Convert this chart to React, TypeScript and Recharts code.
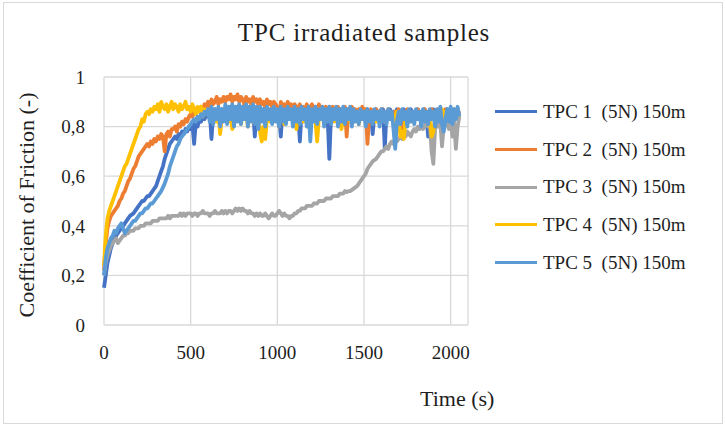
import React from "react";
import { LineChart, Line, XAxis, YAxis, CartesianGrid } from "recharts";

// sampling step of the friction log (s)
const SAMPLE_STEP = 10;

const X_TICKS = [0, 500, 1000, 1500, 2000];
const Y_TICKS = [0, 0.2, 0.4, 0.6, 0.8, 1];

const SERIES_NAMES = [
  "TPC 1  (5N) 150m",
  "TPC 2  (5N) 150m",
  "TPC 3  (5N) 150m",
  "TPC 4  (5N) 150m",
  "TPC 5  (5N) 150m",
];
const SERIES_COLORS = ["#4472C4", "#ED7D31", "#A5A5A5", "#FFC000", "#5B9BD5"];

// coefficient of friction, one value every 10 s, rows of 100 s
const tpc1 = [
  0.15, 0.20, 0.25, 0.28, 0.31, 0.33, 0.35, 0.36, 0.37, 0.38,
  0.39, 0.40, 0.41, 0.42, 0.43, 0.44, 0.445, 0.45, 0.46, 0.47,
  0.48, 0.49, 0.50, 0.50, 0.51, 0.52, 0.52, 0.53, 0.54, 0.55,
  0.56, 0.58, 0.60, 0.62, 0.64, 0.67, 0.69, 0.71, 0.73, 0.74,
  0.75, 0.76, 0.75, 0.77, 0.76, 0.78, 0.77, 0.79, 0.78, 0.80,
  0.79, 0.81, 0.73, 0.82, 0.80, 0.83, 0.82, 0.84, 0.83, 0.85,
  0.84, 0.86, 0.75, 0.85, 0.87, 0.84, 0.86, 0.85, 0.87, 0.84,
  0.86, 0.87, 0.85, 0.88, 0.86, 0.87, 0.85, 0.88, 0.86, 0.87,
  0.88, 0.85, 0.87, 0.86, 0.88, 0.85, 0.87, 0.76, 0.86, 0.88,
  0.86, 0.87, 0.85, 0.88, 0.86, 0.87, 0.85, 0.87, 0.86, 0.88,
  0.86, 0.85, 0.76, 0.87, 0.85, 0.86, 0.84, 0.87, 0.85, 0.86,
  0.84, 0.86, 0.85, 0.74, 0.86, 0.84, 0.87, 0.85, 0.86, 0.77,
  0.86, 0.84, 0.87, 0.85, 0.86, 0.84, 0.87, 0.85, 0.86, 0.84,
  0.67, 0.85, 0.87, 0.84, 0.86, 0.85, 0.87, 0.84, 0.86, 0.85,
  0.87, 0.84, 0.86, 0.85, 0.87, 0.84, 0.86, 0.85, 0.87, 0.84,
  0.86, 0.85, 0.87, 0.84, 0.86, 0.77, 0.85, 0.87, 0.84, 0.86,
  0.85, 0.87, 0.71, 0.86, 0.84, 0.87, 0.85, 0.86, 0.84, 0.87,
  0.85, 0.86, 0.84, 0.87, 0.85, 0.86, 0.84, 0.87, 0.85, 0.86,
  0.84, 0.87, 0.85, 0.86, 0.84, 0.87, 0.85, 0.76, 0.86, 0.84,
  0.87, 0.85, 0.86, 0.84, 0.87, 0.85, 0.86, 0.84, 0.87, 0.85,
  0.86, 0.84, 0.87, 0.85, 0.86, 0.84,
];

const tpc2 = [
  0.22, 0.33, 0.39, 0.42, 0.44, 0.45, 0.46, 0.47, 0.48, 0.50,
  0.51, 0.53, 0.54, 0.56, 0.58, 0.59, 0.61, 0.63, 0.64, 0.66,
  0.68, 0.69, 0.70, 0.71, 0.72, 0.73, 0.72, 0.74, 0.73, 0.75,
  0.74, 0.76, 0.75, 0.77, 0.76, 0.70, 0.77, 0.78, 0.76, 0.79,
  0.79, 0.80, 0.78, 0.81, 0.80, 0.82, 0.81, 0.83, 0.82, 0.84,
  0.85, 0.84, 0.86, 0.85, 0.87, 0.86, 0.88, 0.87, 0.89, 0.88,
  0.90, 0.88, 0.91, 0.89, 0.90, 0.92, 0.89, 0.91, 0.90, 0.92,
  0.90, 0.92, 0.91, 0.93, 0.90, 0.92, 0.91, 0.93, 0.90, 0.92,
  0.91, 0.89, 0.92, 0.90, 0.91, 0.89, 0.92, 0.90, 0.91, 0.89,
  0.91, 0.89, 0.90, 0.88, 0.91, 0.89, 0.90, 0.88, 0.90, 0.89,
  0.88, 0.80, 0.90, 0.88, 0.89, 0.87, 0.90, 0.88, 0.89, 0.87,
  0.89, 0.88, 0.86, 0.89, 0.87, 0.88, 0.86, 0.89, 0.87, 0.88,
  0.89, 0.87, 0.88, 0.86, 0.89, 0.87, 0.88, 0.86, 0.88, 0.87,
  0.88, 0.86, 0.88, 0.87, 0.85, 0.88, 0.86, 0.87, 0.85, 0.88,
  0.76, 0.87, 0.85, 0.88, 0.86, 0.87, 0.85, 0.87, 0.86, 0.88,
  0.86, 0.87, 0.73, 0.85, 0.87, 0.86, 0.84, 0.87, 0.85, 0.86,
  0.87, 0.85, 0.86, 0.84, 0.87, 0.85, 0.86, 0.84, 0.86, 0.85,
  0.87, 0.85, 0.78, 0.86, 0.84, 0.87, 0.85, 0.86, 0.84, 0.86,
  0.85, 0.87, 0.84, 0.86, 0.85, 0.87, 0.84, 0.86, 0.85, 0.87,
  0.85, 0.86, 0.84, 0.87, 0.85, 0.86, 0.84, 0.87, 0.85, 0.86,
  0.87, 0.85, 0.86, 0.84, 0.87, 0.85,
];

const tpc3 = [
  0.20, 0.25, 0.28, 0.30, 0.32, 0.33, 0.34, 0.35, 0.33, 0.34,
  0.35, 0.36, 0.36, 0.37, 0.37, 0.38, 0.38, 0.38, 0.39, 0.39,
  0.39, 0.40, 0.40, 0.40, 0.41, 0.41, 0.41, 0.41, 0.42, 0.42,
  0.42, 0.42, 0.43, 0.43, 0.43, 0.43, 0.43, 0.44, 0.43, 0.44,
  0.44, 0.44, 0.44, 0.44, 0.45, 0.44, 0.45, 0.44, 0.45, 0.45,
  0.45, 0.44, 0.45, 0.45, 0.44, 0.45, 0.45, 0.46, 0.45, 0.45,
  0.45, 0.44, 0.45, 0.45, 0.46, 0.45, 0.45, 0.45, 0.46, 0.45,
  0.46, 0.45, 0.46, 0.46, 0.45, 0.46, 0.47, 0.46, 0.47, 0.46,
  0.47, 0.46, 0.46, 0.45, 0.46, 0.45, 0.45, 0.44, 0.45, 0.44,
  0.45, 0.44, 0.44, 0.45, 0.44, 0.43, 0.44, 0.45, 0.44, 0.44,
  0.45, 0.46, 0.45, 0.44, 0.45, 0.44, 0.44, 0.43, 0.44, 0.44,
  0.45, 0.45, 0.46, 0.46, 0.47, 0.47, 0.47, 0.48, 0.48, 0.48,
  0.48, 0.49, 0.49, 0.49, 0.50, 0.50, 0.50, 0.50, 0.51, 0.51,
  0.51, 0.51, 0.52, 0.52, 0.52, 0.52, 0.53, 0.53, 0.53, 0.54,
  0.535, 0.54, 0.54, 0.545, 0.55, 0.555, 0.56, 0.57, 0.58, 0.59,
  0.60, 0.61, 0.63, 0.64, 0.65, 0.66, 0.665, 0.67, 0.68, 0.69,
  0.70, 0.70, 0.71, 0.72, 0.71, 0.73, 0.74, 0.73, 0.75, 0.74,
  0.75, 0.76, 0.75, 0.77, 0.76, 0.78, 0.77, 0.76, 0.78, 0.79,
  0.78, 0.80, 0.79, 0.81, 0.79, 0.80, 0.82, 0.80, 0.81, 0.70,
  0.65, 0.79, 0.81, 0.80, 0.82, 0.72, 0.80, 0.82, 0.81, 0.79,
  0.83, 0.76, 0.82, 0.71, 0.80, 0.84,
];

const tpc4 = [
  0.24, 0.36, 0.43, 0.46, 0.48, 0.50, 0.52, 0.54, 0.56, 0.58,
  0.60, 0.62, 0.64, 0.65, 0.67, 0.69, 0.71, 0.73, 0.75, 0.77,
  0.79, 0.80, 0.83, 0.82, 0.85, 0.86, 0.85, 0.87, 0.86, 0.88,
  0.87, 0.89, 0.86, 0.90, 0.88, 0.87, 0.89, 0.86, 0.88, 0.90,
  0.87, 0.89, 0.88, 0.86, 0.89, 0.87, 0.88, 0.90, 0.87, 0.88,
  0.86, 0.89, 0.87, 0.85, 0.88, 0.86, 0.88, 0.84, 0.87, 0.85,
  0.86, 0.84, 0.87, 0.83, 0.85, 0.82, 0.86, 0.77, 0.84, 0.85,
  0.83, 0.86, 0.82, 0.85, 0.79, 0.84, 0.86, 0.83, 0.85, 0.81,
  0.85, 0.83, 0.86, 0.80, 0.84, 0.85, 0.82, 0.86, 0.83, 0.84,
  0.78, 0.74, 0.80, 0.75, 0.83, 0.85, 0.82, 0.84, 0.86, 0.83,
  0.85, 0.82, 0.84, 0.86, 0.81, 0.84, 0.85, 0.83, 0.86, 0.82,
  0.84, 0.79, 0.85, 0.83, 0.86, 0.82, 0.84, 0.85, 0.81, 0.84,
  0.85, 0.83, 0.82, 0.74, 0.84, 0.86, 0.83, 0.85, 0.82, 0.84,
  0.85, 0.83, 0.86, 0.82, 0.84, 0.85, 0.83, 0.79, 0.84, 0.86,
  0.83, 0.85, 0.82, 0.84, 0.86, 0.83, 0.85, 0.81, 0.84, 0.85,
  0.83, 0.86, 0.82, 0.84, 0.85, 0.83, 0.86, 0.82, 0.84, 0.85,
  0.83, 0.85, 0.82, 0.86, 0.84, 0.83, 0.85, 0.82, 0.84, 0.86,
  0.83, 0.76, 0.78, 0.75, 0.84, 0.86, 0.83, 0.85, 0.82, 0.84,
  0.86, 0.83, 0.85, 0.82, 0.86, 0.84, 0.83, 0.85, 0.82, 0.76,
  0.78, 0.84, 0.86, 0.83, 0.85, 0.87, 0.84, 0.86, 0.83, 0.85,
  0.86, 0.84, 0.87, 0.85, 0.86, 0.84,
];

const tpc5 = [
  0.20, 0.27, 0.31, 0.33, 0.35, 0.36, 0.38, 0.37, 0.39, 0.40,
  0.41, 0.39, 0.37, 0.38, 0.39, 0.40, 0.41, 0.42, 0.42, 0.43,
  0.44, 0.45, 0.45, 0.46, 0.47, 0.47, 0.48, 0.49, 0.49, 0.50,
  0.51, 0.52, 0.53, 0.54, 0.555, 0.57, 0.59, 0.61, 0.64, 0.66,
  0.68, 0.70, 0.72, 0.73, 0.75, 0.76, 0.77, 0.78, 0.79, 0.80,
  0.81, 0.82, 0.83, 0.82, 0.84, 0.83, 0.85, 0.84, 0.86, 0.85,
  0.87, 0.82, 0.88, 0.81, 0.87, 0.83, 0.88, 0.80, 0.87, 0.82,
  0.89, 0.81, 0.88, 0.83, 0.89, 0.80, 0.88, 0.82, 0.89, 0.81,
  0.88, 0.83, 0.89, 0.80, 0.88, 0.82, 0.89, 0.81, 0.88, 0.79,
  0.88, 0.82, 0.87, 0.80, 0.88, 0.83, 0.87, 0.81, 0.88, 0.82,
  0.87, 0.80, 0.88, 0.82, 0.87, 0.81, 0.88, 0.83, 0.87, 0.80,
  0.88, 0.82, 0.87, 0.81, 0.88, 0.83, 0.87, 0.80, 0.88, 0.74,
  0.87, 0.82, 0.88, 0.81, 0.87, 0.83, 0.88, 0.80, 0.87, 0.82,
  0.88, 0.81, 0.87, 0.83, 0.88, 0.80, 0.87, 0.82, 0.88, 0.81,
  0.87, 0.83, 0.88, 0.80, 0.87, 0.82, 0.86, 0.81, 0.87, 0.83,
  0.86, 0.80, 0.87, 0.82, 0.86, 0.81, 0.87, 0.83, 0.86, 0.80,
  0.87, 0.82, 0.86, 0.81, 0.87, 0.83, 0.86, 0.79, 0.71, 0.82,
  0.86, 0.81, 0.87, 0.83, 0.86, 0.80, 0.87, 0.82, 0.86, 0.81,
  0.87, 0.83, 0.86, 0.80, 0.87, 0.82, 0.86, 0.81, 0.87, 0.83,
  0.86, 0.80, 0.87, 0.82, 0.88, 0.81, 0.78, 0.83, 0.87, 0.82,
  0.88, 0.81, 0.87, 0.83, 0.88, 0.84,
];

const SERIES = [tpc1, tpc2, tpc3, tpc4, tpc5];

const rows = tpc1.map((_, i) => {
  const row: Record<string, number> = { t: i * SAMPLE_STEP };
  SERIES.forEach((s, k) => {
    row[`s${k}`] = s[i];
  });
  return row;
});

const FONT = '"Liberation Serif", "Times New Roman", serif';
const INK = "#1e1e1e";

const fmtComma = (v: number) => String(v).replace(".", ",");

export default function App() {
  return (
    <div
      style={{
        position: "absolute",
        left: 0,
        top: 0,
        width: 725,
        height: 427,
        background: "#fff",
        fontFamily: FONT,
        color: INK,
      }}
    >
      <div
        style={{
          position: "absolute",
          left: 3,
          top: 2,
          width: 718,
          height: 420,
          border: "1px solid #d9d9d9",
        }}
      />
      <div
        style={{
          position: "absolute",
          left: 0,
          width: 728,
          top: 20,
          textAlign: "center",
          fontSize: 25,
          lineHeight: "25px",
          letterSpacing: 0.8,
        }}
      >
        TPC irradiated samples
      </div>
      <div
        style={{
          position: "absolute",
          left: 27,
          top: 205,
          fontSize: 22,
          lineHeight: "22px",
          whiteSpace: "nowrap",
          transform: "translate(-50%, -50%) rotate(-90deg)",
        }}
      >
        Coefficient of Friction (-)
      </div>
      <div
        style={{
          position: "absolute",
          left: 420,
          top: 388,
          fontSize: 22,
          lineHeight: "22px",
          whiteSpace: "nowrap",
        }}
      >
        Time (s)
      </div>

      {/* legend column to the right of the plot */}
      <div style={{ position: "absolute", left: 495, top: 93, fontSize: 19 }}>
        {SERIES_NAMES.map((name, k) => (
          <div
            key={name}
            style={{ height: 37.7, display: "flex", alignItems: "center" }}
          >
            <div
              style={{
                width: 42,
                height: 3,
                background: SERIES_COLORS[k],
                marginRight: 6,
              }}
            />
            <span style={{ whiteSpace: "pre" }}>{name}</span>
          </div>
        ))}
      </div>

      <div style={{ position: "absolute", left: 0, top: 0 }}>
        <LineChart
          width={725}
          height={427}
          data={rows}
          margin={{ top: 77, right: 257, bottom: 72, left: 44 }}
        >
          <CartesianGrid stroke="#d9d9d9" strokeWidth={1.3} />
          <XAxis
            dataKey="t"
            type="number"
            domain={[0, 2100]}
            ticks={X_TICKS}
            interval={0}
            height={30}
            axisLine={false}
            tickLine={false}
            tickSize={0}
            tickMargin={21}
            tick={{ fill: INK, fontSize: 19, fontFamily: FONT }}
          />
          <YAxis
            type="number"
            domain={[0, 1]}
            ticks={Y_TICKS}
            interval={0}
            width={60}
            axisLine={false}
            tickLine={false}
            tickSize={0}
            tickMargin={19}
            tickFormatter={fmtComma}
            tick={{ fill: INK, fontSize: 19, fontFamily: FONT }}
          />
          {SERIES_NAMES.map((name, k) => (
            <Line
              key={name}
              name={name}
              dataKey={`s${k}`}
              type="linear"
              stroke={SERIES_COLORS[k]}
              strokeWidth={3.8}
              strokeLinejoin="round"
              dot={false}
              activeDot={false}
              isAnimationActive={false}
            />
          ))}
        </LineChart>
      </div>
    </div>
  );
}
